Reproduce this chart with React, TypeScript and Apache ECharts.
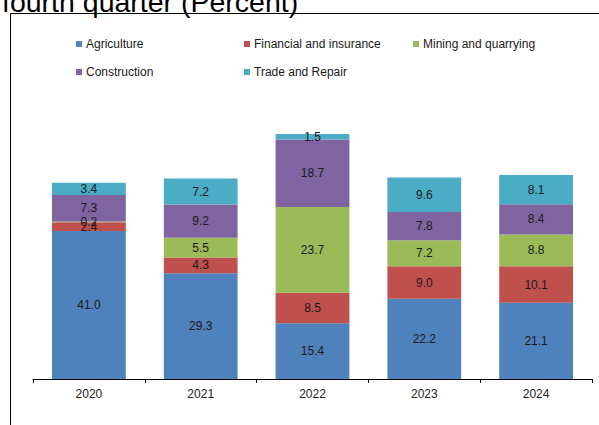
import React, { useEffect, useRef } from "react";
import * as echarts from "echarts";

const years = ["2020", "2021", "2022", "2023", "2024"];
const agriculture = [41.0, 29.3, 15.4, 22.2, 21.1];
const financial = [2.4, 4.3, 8.5, 9.0, 10.1];
const mining = [0.2, 5.5, 23.7, 7.2, 8.8];
const construction = [7.3, 9.2, 18.7, 7.8, 8.4];
const trade = [3.4, 7.2, 1.5, 9.6, 8.1];

const seriesNames = [
  "Agriculture",
  "Financial and insurance",
  "Mining and quarrying",
  "Construction",
  "Trade and Repair",
];
const seriesData = [agriculture, financial, mining, construction, trade];
const colors = ["#4F81BD", "#C0504D", "#9BBB59", "#8064A2", "#4BACC6"];
const legendPos = [
  { left: 76, top: 38 },
  { left: 244, top: 38 },
  { left: 413, top: 38 },
  { left: 76, top: 66 },
  { left: 244, top: 66 },
];

export default function App() {
  const ref = useRef<HTMLDivElement>(null);
  useEffect(() => {
    document.body.style.margin = "0";
    const chart = echarts.init(ref.current!, null, { renderer: "svg" });
    chart.setOption({
      animation: false,
      backgroundColor: "#ffffff",
      textStyle: { fontFamily: "Arial, 'Liberation Sans', sans-serif" },
      grid: { left: 33, right: 7, top: 90, bottom: 46 },
      legend: seriesNames.map((n, i) => ({
        data: [n],
        left: legendPos[i].left,
        top: legendPos[i].top,
        itemWidth: 6,
        itemHeight: 6,
        icon: "rect",
        padding: 0,
        textStyle: { fontSize: 12, color: "#1a1a1a", padding: [0, 0, 0, -1] },
        selectedMode: false,
      })),
      xAxis: {
        type: "category",
        data: years,
        axisLine: { lineStyle: { color: "#000", width: 1 } },
        axisTick: { show: true, length: 4, lineStyle: { color: "#000" } },
        axisLabel: { fontSize: 12, color: "#222", margin: 9 },
      },
      yAxis: {
        type: "value",
        min: 0,
        max: 80,
        show: false,
        splitLine: { show: false },
      },
      graphic: [
        {
          type: "rect",
          shape: { x: 10.5, y: 13.5, width: 700, height: 600 },
          style: { fill: "none", stroke: "#000", lineWidth: 1 },
          silent: true,
          z: 0,
        },
        {
          type: "text",
          x: 2,
          y: 2,
          style: {
            text: "fourth quarter (Percent)",
            font: "28.5px Arial, 'Liberation Sans', sans-serif",
            fill: "#000",
            verticalAlign: "middle",
          },
          silent: true,
        },
      ],
      series: seriesNames.map((n, i) => ({
        name: n,
        type: "bar",
        stack: "total",
        barCategoryGap: "34%",
        data: seriesData[i],
        itemStyle: { color: colors[i] },
        label: {
          show: true,
          position: "inside",
          fontSize: 12,
          color: "#1a1a1a",
          formatter: (p: any) => Number(p.value).toFixed(1),
        },
      })),
    });
    return () => chart.dispose();
  }, []);
  return <div ref={ref} style={{ width: 599, height: 425 }} />;
}
